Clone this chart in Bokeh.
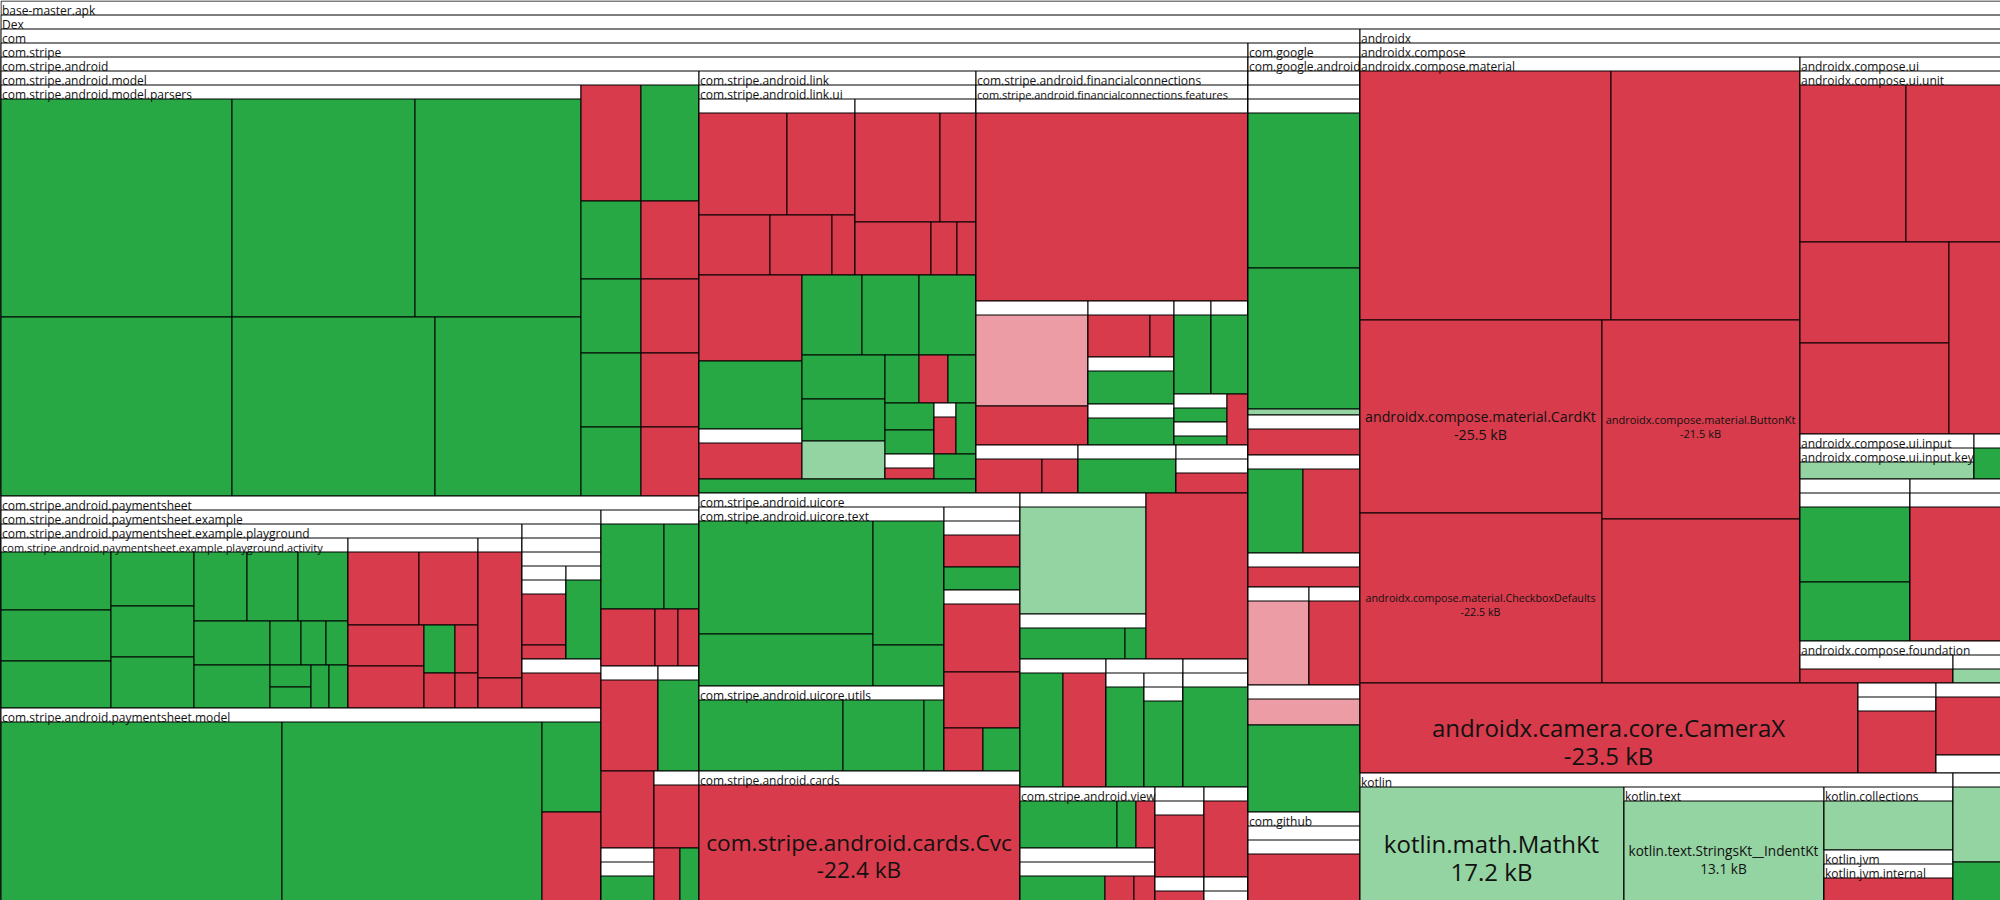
from bokeh.plotting import figure
from bokeh.models import ColumnDataSource, Range1d
from bokeh.embed import file_html
from bokeh.resources import INLINE
from bokeh.core.properties import value, field

# ---------------------------------------------------------------------------
# Treemap data: (id, parent, label, size, colour, strip)
#   label None  -> invisible grouping (no header)
#   strip "H"   -> starts a new horizontal strip, "V" a new vertical strip,
#   strip "-"   -> continues the current strip
#   colour: G green, R red, L light green, P pink, W white, None = package
# ---------------------------------------------------------------------------
TOP = [
    ("apk", None, "base-master.apk", 1800000, None, "H"),
    ("dex", "apk", "Dex", 1772000, None, "H"),
    ("com", "dex", "com", 1185048, None, "V"),
    ("androidx", "dex", "androidx", 476904, None, "H"),
    ("kotlin", "dex", "kotlin", 75904, None, "H"),
    ("misc", "dex", "", 6144, None, "-"),
]

COM = [
    ("cs", "com", "com.stripe", 1069926, None, "V"),
    ("cg", "com", "com.google", 86128, None, "H"),
    ("cgh", "com", "com.github", 9968, None, "H"),
    ("csa", "cs", "com.stripe.android", 1052468, None, "H"),
]

GOOGLE = [
    ("cga", "cg", "com.google.android", 84560, None, "H"),
    ("ga1", "cga", "", 38528, None, "H"),
    ("ga1a", "ga1", "", 36960, None, "H"),
    ("ga1b", "ga1a", "", 35392, None, "H"),
    ("ga1b1", "ga1b", "", 17360, "G", "H"),
    ("ga1b2", "ga1b", "", 15792, "G", "H"),
    ("ga1b3", "ga1b", "", 672, "L", "H"),
    ("ga2", "cga", "", 4480, None, "H"),
    ("ga2a", "ga2", "", 2912, "R", "H"),
    ("ga3", "cga", "", 10976, None, "H"),
    ("ga3a", "ga3", "", 4620, "G", "H"),
    ("ga3b", "ga3", "", 4788, "R", "-"),
    ("ga4", "cga", "", 3808, None, "H"),
    ("ga4a", "ga4", "", 2240, "R", "H"),
    ("ga5", "cga", "", 5978, None, "H"),
    ("ga5a", "ga5", "", 5124, "P", "H"),
    ("ga6", "cga", "", 4998, None, "-"),
    ("ga6a", "ga6", "", 4284, "R", "H"),
    ("ga7", "cga", "", 4480, None, "H"),
    ("ga7a", "ga7", "", 2912, "P", "H"),
    ("ga8", "cga", "", 9744, "G", "H"),
    ("gh1", "cgh", "", 8400, None, "H"),
    ("gh2", "gh1", "", 6832, None, "H"),
    ("gh3", "gh2", "", 5264, "R", "H"),
]

STRIPE = [
    ("model", "csa", "com.stripe.android.model", 296650, None, "V"),
    ("ps", "csa", "com.stripe.android.paymentsheet", 282690, None, "-"),
    ("link", "csa", "com.stripe.android.link", 116894, None, "H"),
    ("fc", "csa", "com.stripe.android.financialconnections", 114784, None, "-"),
    ("uicore", "csa", "com.stripe.android.uicore", 89238, None, "V"),
    ("cards", "csa", "com.stripe.android.cards", 41730, None, "-"),
    ("h1", "csa", "", 20916, None, "H"),
    ("h1r", "csa", "", 16932, "R", "-"),
    ("h2", "csa", "", 11008, None, "H"),
    ("h3", "csa", "", 9856, None, "-"),
    ("h4", "csa", "", 8320, None, "-"),
    ("view", "csa", "com.stripe.android.view", 15390, None, "H"),
    ("h5", "csa", "", 5586, None, "-"),
    ("h6", "csa", "", 5016, None, "-"),
]

MODEL = [
    ("parsers", "model", "com.stripe.android.model.parsers", 238380, None, "V"),
    ("mo1", "model", "", 6960, "R", "H"), ("mo2", "model", "", 6728, "G", "-"),
    ("mo3", "model", "", 4680, "G", "H"), ("mo4", "model", "", 4524, "R", "-"),
    ("mo5", "model", "", 4440, "G", "H"), ("mo6", "model", "", 4292, "R", "-"),
    ("mo7", "model", "", 4440, "G", "H"), ("mo8", "model", "", 4292, "R", "-"),
    ("mo9", "model", "", 4140, "G", "H"), ("mo10", "model", "", 4002, "R", "-"),
    ("pa1", "parsers", "", 50358, "G", "V"), ("pa4", "parsers", "", 41349, "G", "-"),
    ("pa2", "parsers", "", 39894, "G", "H"), ("pa3", "parsers", "", 36188, "G", "-"),
    ("pa5", "parsers", "", 36337, "G", "H"), ("pa6", "parsers", "", 26134, "G", "-"),
]

PAYMENTSHEET = [
    ("ex", "ps", "com.stripe.android.paymentsheet.example", 118800, None, "V"),
    ("pm", "ps", "com.stripe.android.paymentsheet.model", 115800, None, "-"),
    ("psr", "ps", "", 15288, None, "H"),
    ("pss", "ps", "", 5985, None, "H"), ("pst", "ps", "", 4305, None, "-"),
    ("psu", "ps", "", 4081, "R", "H"), ("psv", "ps", "", 3465, None, "-"),
    ("psw", "ps", "", 2809, None, "H"), ("psx", "ps", "", 1378, "R", "-"),
    ("psy", "ps", "", 1007, "G", "-"),
    ("pg", "ex", "com.stripe.android.paymentsheet.example.playground", 96385, None, "V"),
    ("q", "ex", "", 14615, None, "V"),
    ("act", "pg", "com.stripe.android.paymentsheet.example.playground.activity", 59337, None, "V"),
    ("p2", "pg", "", 22230, None, "V"),
    ("p3", "pg", "", 7524, None, "V"),
    ("a1", "act", "", 6380, "G", "V"), ("a2", "act", "", 5720, "G", "-"),
    ("a3", "act", "", 5170, "G", "-"),
    ("b1", "act", "", 4482, "G", "V"), ("b2", "act", "", 4316, "G", "-"),
    ("b3", "act", "", 4233, "G", "-"),
    ("c1", "act", "", 3657, "G", "H"), ("c2", "act", "", 3519, "G", "-"),
    ("c3", "act", "", 3450, "G", "-"),
    ("d1", "act", "", 3420, "G", "V"), ("d2", "act", "", 3268, "G", "-"),
    ("e1", "act", "", 1395, "G", "H"), ("e2", "act", "", 1125, "G", "-"),
    ("e3", "act", "", 990, "G", "-"),
    ("f1", "act", "", 902, "G", "V"), ("f2", "act", "", 861, "G", "-"),
    ("f3", "act", "", 774, "G", "V"), ("f4", "act", "", 817, "G", "V"),
    ("p2a", "p2", "", 5183, "R", "H"), ("p2b", "p2", "", 4307, "R", "-"),
    ("p2c", "p2", "", 3192, "R", "V"), ("p2d", "p2", "", 3192, "R", "-"),
    ("p2e", "p2", "", 1519, "G", "H"), ("p2f", "p2", "", 1127, "R", "-"),
    ("p2g", "p2", "", 1085, "R", "H"), ("p2h", "p2", "", 805, "R", "-"),
    ("p3a", "p3", "", 5588, "R", "H"), ("p3b", "p3", "", 1320, "R", "H"),
    ("q1", "q", "", 9638, None, "H"), ("q2", "q", "", 3871, None, "H"),
    ("q1a", "q1", "", 8532, None, "H"),
    ("q1a1", "q1a", "", 4136, None, "V"), ("q1a2", "q1a", "", 3290, None, "V"),
    ("q1a1x", "q1a1", "", 3520, None, "H"),
    ("q1a1xa", "q1a1x", "", 2288, "R", "H"), ("q1a1xb", "q1a1x", "", 616, "R", "H"),
    ("q1a2a", "q1a2", "", 2800, "G", "H"),
    ("q2a", "q2", "", 2765, "R", "H"),
    ("m1", "pm", "", 50299, "G", "V"), ("m2", "pm", "", 46540, "G", "V"),
    ("m3", "pm", "", 5310, "G", "V"), ("m4", "pm", "", 5251, "R", "-"),
    ("psr1", "psr", "", 5418, "G", "H"), ("psr2", "psr", "", 3010, "G", "-"),
    ("psr3", "psr", "", 3078, "R", "H"), ("psr4", "psr", "", 1311, "R", "-"),
    ("psr5", "psr", "", 1197, "R", "-"),
    ("pss1", "pss", "", 5187, "R", "H"),
    ("pst1", "pst", "", 3731, "G", "H"),
    ("psv1", "psv", "", 2835, "R", "H"),
    ("psw1", "psw", "", 2067, None, "H"), ("psw2", "psw1", "", 1325, "G", "H"),
]

LINK = [
    ("lui", "link", "com.stripe.android.link.ui", 109138, None, "H"),
    ("lgs", "link", "", 3878, "G", "H"),
    ("l1", "lui", "", 27456, None, "H"), ("l2", "lui", "", 21296, None, "-"),
    ("k1", "lui", "", 8858, "R", "V"), ("k2", "lui", "", 7004, "G", "-"),
    ("kz", "lui", "", 5150, None, "-"),
    ("k3", "lui", "", 4800, "G", "H"), ("k4", "lui", "", 4560, "G", "-"),
    ("k5", "lui", "", 4560, "G", "-"),
    ("k6", "lui", "", 3652, "G", "V"), ("k7", "lui", "", 3486, "G", "-"),
    ("k8", "lui", "", 3154, "L", "-"),
    ("k9", "lui", "", 1632, "G", "H"), ("k10", "lui", "", 1392, "R", "-"),
    ("k11", "lui", "", 1344, "G", "-"),
    ("k12", "lui", "", 1323, "G", "V"), ("k13", "lui", "", 1176, "G", "-"),
    ("kz2", "lui", "", 1225, None, "-"),
    ("kz3", "lui", "", 1122, None, "H"), ("k14", "lui", "", 1020, "G", "-"),
    ("k15", "lui", "", 1050, "G", "H"),
    ("kza", "kz", "", 3708, "R", "H"),
    ("kz2a", "kz2", "", 539, "R", "H"),
    ("kz3a", "kz3", "", 814, "R", "H"),
    ("l1a", "l1", "", 8976, "R", "H"), ("l1b", "l1", "", 6936, "R", "-"),
    ("l1c", "l1", "", 4260, "R", "H"), ("l1d", "l1", "", 3720, "R", "-"),
    ("l1e", "l1", "", 1380, "R", "-"),
    ("l2a", "l2", "", 9265, "R", "H"), ("l2b", "l2", "", 3924, "R", "-"),
    ("l2c", "l2", "", 4028, "R", "H"), ("l2d", "l2", "", 1378, "R", "-"),
    ("l2e", "l2", "", 1007, "R", "-"),
]

FINCONN = [
    ("fcf", "fc", "com.stripe.android.financialconnections.features", 110976, None, "H"),
    ("fa1", "fcf", "", 54944, None, "H"),
    ("fa2", "fcf", "", 16128, None, "H"), ("fa3", "fcf", "", 12384, None, "-"),
    ("fa4", "fcf", None, 10656, None, "-"),
    ("fg1", "fcf", "", 4896, None, "H"), ("fg2", "fcf", "", 4704, None, "-"),
    ("fg3", "fcf", "", 3456, None, "-"),
    ("fa1a", "fa1", "", 51136, "R", "H"),
    ("fa2a", "fa2", "", 10192, "P", "H"), ("fa2b", "fa2", "", 4368, "R", "H"),
    ("fa3a", "fa3", "", 2604, "R", "H"), ("fa3b", "fa3", "", 1008, "R", "-"),
    ("fa3c", "fa3", "", 4042, None, "H"), ("fa3d", "fa3", "", 3526, None, "H"),
    ("fa3c1", "fa3c", "", 2838, "G", "H"), ("fa3d1", "fa3d", "", 2322, "G", "H"),
    ("fa4a", "fa4", "", 3441, None, "H"), ("fa4b", "fa4", "", 3441, None, "-"),
    ("fa4c", "fa4", "", 2703, None, "H"), ("fa4d", "fa4", "", 1071, "R", "-"),
    ("fa4a1", "fa4a", "", 2923, "G", "H"), ("fa4b1", "fa4b", "", 2923, "G", "H"),
    ("fa4c1", "fa4c", "", 742, "G", "H"), ("fa4c2", "fa4c", "", 1219, None, "H"),
    ("fa4c2a", "fa4c2", "", 477, "G", "H"),
    ("fg1a", "fg1", "", 2244, "R", "H"), ("fg1b", "fg1", "", 1224, "R", "-"),
    ("fg2a", "fg2", "", 3332, "G", "H"),
    ("fg3a", "fg3", "", 2448, None, "H"), ("fg3b", "fg3a", "", 1440, "R", "H"),
]

UICORE = [
    ("uit", "uicore", "com.stripe.android.uicore.text", 43855, None, "V"),
    ("uiu", "uicore", "com.stripe.android.uicore.utils", 20825, None, "-"),
    ("uc1", "uicore", "", 6308, None, "V"), ("uc2", "uicore", "", 13756, None, "-"),
    ("t1", "uit", "", 19662, "G", "V"), ("t2", "uit", "", 9048, "G", "-"),
    ("t3", "uit", "", 8804, "G", "V"), ("t4", "uit", "", 2911, "G", "-"),
    ("u1", "uiu", "", 10224, "G", "V"), ("u2", "uiu", "", 5751, "G", "V"),
    ("u3", "uiu", "", 1420, "G", "V"),
    ("uc1a", "uc1", "", 5244, None, "H"),
    ("uc1a1", "uc1a", "", 2432, "R", "H"), ("uc1a2", "uc1a", "", 1748, "G", "H"),
    ("uc2a", "uc2", "", 5168, "R", "H"), ("uc2b", "uc2", "", 4256, "R", "H"),
    ("uc2c", "uc2", "", 1677, "R", "H"), ("uc2d", "uc2", "", 1591, "G", "-"),
    ("cvc", "cards", "com.stripe.android.cards.Cvc", 37236, "R", "H"),
]

STRIPE_MISC = [
    ("h1a", "h1", "", 13482, "L", "H"), ("h1b", "h1", "", 5670, None, "H"),
    ("h1b1", "h1b", "", 3255, "G", "H"), ("h1b2", "h1b", "", 651, "G", "-"),
    ("h2a", "h2", "", 4902, "G", "H"), ("h2b", "h2", "", 4902, "R", "-"),
    ("h3a", "h3", "", 4332, None, "H"), ("h3b", "h3", "", 4446, None, "-"),
    ("h3a1", "h3a", "", 3800, "G", "H"),
    ("h3b1", "h3b", "", 3900, None, "H"), ("h3b2", "h3b1", "", 3354, "G", "H"),
    ("h4a", "h4", "", 7410, None, "H"), ("h4a1", "h4a", "", 6500, "G", "H"),
    ("v1", "view", "", 4559, "G", "H"), ("v2", "view", "", 893, "G", "-"),
    ("v3", "view", "", 893, "R", "-"),
    ("vn", "view", "", 7155, None, "H"), ("vn1", "vn", "", 5265, None, "H"),
    ("vn1a", "vn1", "", 2125, "G", "H"), ("vn1b", "vn1", "", 725, "R", "-"),
    ("vn1c", "vn1", "", 525, "R", "-"),
    ("h5a", "h5", "", 3724, None, "H"), ("h5b", "h5", "", 1176, None, "H"),
    ("h5a1", "h5a", "", 3038, "R", "H"), ("h5b1", "h5b", "", 490, "R", "H"),
    ("h6a", "h6", "", 3344, "R", "H"), ("h6b", "h6", "", 1056, None, "H"),
    ("h6b1", "h6b", "", 440, "W", "H"),
]

ANDROIDX = [
    ("compose", "androidx", "androidx.compose", 410240, None, "H"),
    ("camx", "androidx", "androidx.camera.core.CameraX", 44820, "R", "H"),
    ("ax2", "androidx", "", 7020, None, "-"), ("ax3", "androidx", "", 5850, None, "-"),
    ("ax2a", "ax2", "", 5928, None, "H"), ("ax2b", "ax2a", "", 4836, "R", "H"),
    ("ax3a", "ax3", "", 3770, "R", "H"), ("ax3b", "ax3", "", 1170, "W", "H"),
    ("mat", "compose", "androidx.compose.material", 275440, None, "V"),
    ("cui", "compose", "androidx.compose.ui", 117384, None, "V"),
    ("fnd", "compose", "androidx.compose.foundation", 8442, None, "-"),
    ("mt1", "mat", "", 62499, "R", "H"), ("mt2", "mat", "", 47061, "R", "-"),
    ("card", "mat", "androidx.compose.material.CardKt", 46706, "R", "V"),
    ("chk", "mat", "androidx.compose.material.CheckboxDefaults", 41140, "R", "-"),
    ("btn", "mat", "androidx.compose.material.ButtonKt", 39402, "R", "V"),
    ("mt6", "mat", "", 32472, "R", "-"),
    ("unit", "cui", "androidx.compose.ui.unit", 72963, None, "H"),
    ("inp", "cui", "androidx.compose.ui.input", 7830, None, "H"),
    ("inp2", "cui", "", 1215, None, "-"),
    ("ui3", "cui", "", 17820, None, "H"), ("ui4", "cui", "", 14742, None, "-"),
    ("un1", "unit", "", 16642, "R", "H"), ("un2", "unit", "", 14915, "R", "-"),
    ("un3", "unit", "", 15049, "R", "V"), ("un4", "unit", "", 13559, "R", "-"),
    ("un5", "unit", "", 9984, "R", "V"),
    ("key", "inp", "androidx.compose.ui.input.key", 5394, None, "H"),
    ("key1", "key", "", 2958, "L", "H"),
    ("inp2a", "inp2", "", 837, "G", "H"),
    ("ui3a", "ui3", "", 16280, None, "H"),
    ("ui3b", "ui3a", "", 8250, "G", "H"), ("ui3c", "ui3a", "", 6490, "G", "H"),
    ("ui4a", "ui4", "", 13468, None, "H"), ("ui4b", "ui4a", "", 12194, "R", "H"),
    ("fo1", "fnd", "", 4284, None, "H"), ("fo2", "fnd", "", 1344, None, "-"),
    ("fo1a", "fo1", "", 2142, "R", "H"), ("fo2a", "fo2", "", 672, "L", "H"),
]

KOTLIN = [
    ("math", "kotlin", "kotlin.math.MathKt", 30096, "L", "V"),
    ("ktext", "kotlin", "kotlin.text", 22800, None, "V"),
    ("kcoll", "kotlin", "kotlin.collections", 8127, None, "V"),
    ("kjvm", "kotlin", "kotlin.jvm", 6579, None, "-"),
    ("indent", "ktext", "kotlin.text.StringsKt__IndentKt", 20000, "L", "H"),
    ("kcoll1", "kcoll", "", 6321, "L", "H"),
    ("kjvmi", "kjvm", "kotlin.jvm.internal", 4773, None, "H"),
    ("kjvmi1", "kjvmi", "", 2967, "R", "H"),
    ("misc1", "misc", "", 3600, "L", "H"), ("misc2", "misc", "", 1872, "G", "H"),
]

# size change shown under the labelled classes
DIFF_TEXT = {
    "cvc": "-22.4 kB", "card": "-25.5 kB", "btn": "-21.5 kB", "chk": "-22.5 kB",
    "camx": "-23.5 kB", "math": "17.2 kB", "indent": "13.1 kB",
}

# ---------------------------------------------------------------------------
COLORS = {"G": "#28a745", "R": "#d83b4b", "L": "#94d3a2", "P": "#eb9ca5",
          "W": "#ffffff", None: "#ffffff"}
W_PX, H_PX = 2000, 900
HEADER = 14
HEADER_FS = 12.0

EM = {'a': .556, 'b': .613, 'c': .476, 'd': .613, 'e': .561, 'f': .339, 'g': .548,
      'h': .614, 'i': .253, 'j': .253, 'k': .525, 'l': .253, 'm': .930, 'n': .614,
      'o': .604, 'p': .613, 'q': .613, 'r': .408, 's': .477, 't': .353, 'u': .614,
      'v': .501, 'w': .778, 'x': .524, 'y': .502, 'z': .477, '.': .266, '-': .322,
      '_': .45, ' ': .26, 'C': .635, 'X': .545, 'M': .885, 'K': .59, 'B': .635,
      'D': .71, 'I': .3}


def em_width(s):
    return sum(EM.get(ch, .572 if ch.isdigit() else .6) for ch in s)


ENTRIES = (TOP + COM + GOOGLE + STRIPE + MODEL + PAYMENTSHEET + LINK + FINCONN
           + UICORE + STRIPE_MISC + ANDROIDX + KOTLIN)

nodes, kids = {}, {}
for nid, parent, label, size, color, strip in ENTRIES:
    nodes[nid] = dict(label=label, size=size, color=color, strip=strip)
    kids.setdefault(nid, [])
    if parent is not None:
        kids.setdefault(parent, []).append(nid)

rects = []  # drawing order (pre-order)


def lay(nid, x0, y0, x1, y1):
    nd = nodes[nid]
    rects.append((nid, x0, y0, x1, y1))
    ch = kids.get(nid, [])
    if not ch:
        return
    top = y0 + (HEADER if nd["label"] is not None else 0)
    top = min(top, y1)
    strips = []
    for c in ch:
        s = nodes[c]["strip"]
        if s in ("H", "V") or not strips:
            strips.append([s if s in ("H", "V") else "H", [c]])
        else:
            strips[-1][1].append(c)
    rx0, ry0, rx1, ry1 = x0, top, x1, y1
    remaining = float(sum(nodes[c]["size"] for c in ch))
    for orient, items in strips:
        ssum = float(sum(nodes[c]["size"] for c in items))
        frac = ssum / remaining if remaining > 0 else 1.0
        if orient == "H":
            h = (ry1 - ry0) * frac
            xx = rx0
            for c in items:
                w = (rx1 - rx0) * nodes[c]["size"] / ssum
                lay(c, xx, ry0, xx + w, ry0 + h)
                xx += w
            ry0 += h
        else:
            w = (rx1 - rx0) * frac
            yy = ry0
            for c in items:
                h = (ry1 - ry0) * nodes[c]["size"] / ssum
                lay(c, rx0, yy, rx0 + w, yy + h)
                yy += h
            rx0 += w
        remaining -= ssum


lay("apk", 0, 0, W_PX, H_PX)


def px(v):
    # snap to pixel grid so that 1px borders stay crisp
    return round(v) + 0.5


quad = dict(left=[], right=[], top=[], bottom=[], fill=[])
hdr = dict(x=[], y=[], text=[], fs=[])
lab = dict(x=[], y=[], text=[], fs=[])
for nid, x0, y0, x1, y1 in rects:
    nd = nodes[nid]
    is_leaf = not kids.get(nid)
    if nd["label"] is None and not is_leaf:
        continue
    quad["left"].append(px(x0)); quad["right"].append(px(x1))
    quad["top"].append(px(y0)); quad["bottom"].append(px(y1))
    quad["fill"].append(COLORS[nd["color"]] if is_leaf else "#ffffff")
    if not is_leaf and nd["label"] and (y1 - y0) >= HEADER - 1:
        natural = em_width(nd["label"]) * HEADER_FS
        w = x1 - x0
        fs = HEADER_FS if natural <= w + 0.5 else HEADER_FS * 0.925 * w / natural
        hdr["x"].append(round(x0) + 1.5); hdr["y"].append(round(y0) + 9.5)
        hdr["text"].append(nd["label"]); hdr["fs"].append("%.1fpx" % fs)
    if is_leaf and nd["label"]:
        fs = min(24.0, 0.955 * (x1 - x0) / em_width(nd["label"]))
        cx, cy = (x0 + x1) / 2, (y0 + y1) / 2
        lab["x"] += [cx, cx]
        lab["y"] += [cy, cy + fs + 4]
        lab["text"] += [nd["label"], DIFF_TEXT.get(nid, "")]
        lab["fs"] += ["%.1fpx" % fs, "%.1fpx" % fs]

p = figure(width=W_PX, height=H_PX, x_range=Range1d(0, W_PX), y_range=Range1d(H_PX, 0),
           x_axis_type=None, y_axis_type=None, output_backend="svg",
           toolbar_location=None, min_border=0)
p.outline_line_color = None
p.background_fill_color = "#ffffff"
p.border_fill_color = "#ffffff"

p.quad(left="left", right="right", top="top", bottom="bottom", fill_color="fill",
       line_color="#000000", line_width=1, source=ColumnDataSource(quad))
p.text(x="x", y="y", text="text", source=ColumnDataSource(hdr),
       text_font=value("Open Sans"), text_font_size=field("fs"), text_color="#111111",
       text_align="left", text_baseline="alphabetic")
p.text(x="x", y="y", text="text", source=ColumnDataSource(lab),
       text_font=value("Open Sans"), text_font_size=field("fs"), text_color="#111111",
       text_align="center", text_baseline="middle")

open("out.html", "w").write(file_html(p, INLINE))
